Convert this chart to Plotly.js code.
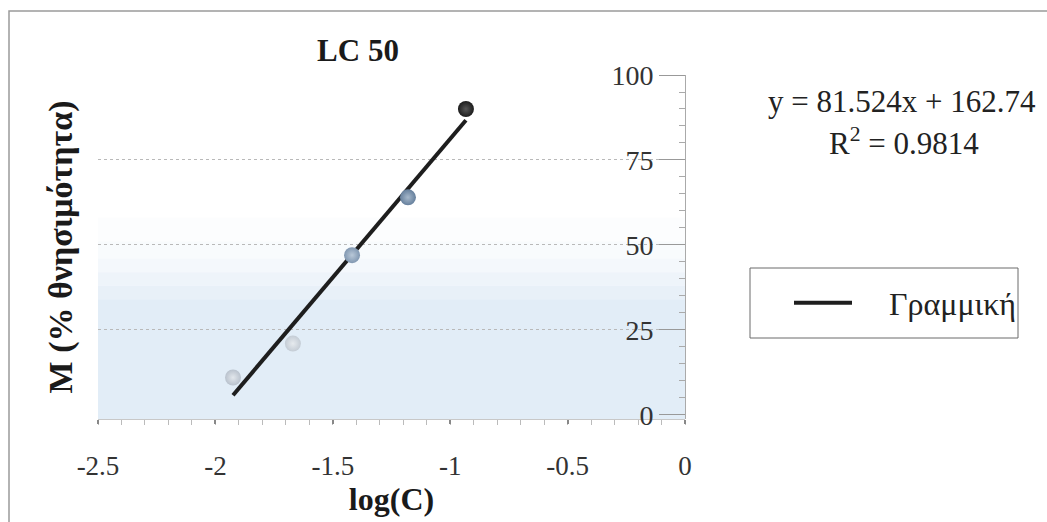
<!DOCTYPE html>
<html>
<head>
<meta charset="utf-8">
<script src="https://cdn.plot.ly/plotly-3.0.1.min.js"></script>
<style>html,body{margin:0;padding:0;background:#fff;}#chart{width:1047px;height:522px;}</style>
</head>
<body>
<div id="chart"></div>
<script>
// ---- data ----
const logC = [-1.925, -1.67, -1.418, -1.18, -0.933];
const mortality = [11, 21, 47, 64, 90];
const slope = 81.524;
const intercept = 162.74;
const rSquared = 0.9814;
const xTickVals = [-2.5, -2, -1.5, -1, -0.5, 0];
const xTickText = ['-2.5', '-2', '-1.5', '-1', '-0.5', '0'];
const yTickVals = [0, 25, 50, 75, 100];
const yTickText = ['0', '25', '50', '75', '100'];
const trendName = 'Γραμμική';
const chartTitle = 'LC 50';
const xTitle = 'log(C)';
const yTitle = 'M (% θνησιμότητα)';

// ---- styles ----
const pointColors = ['#b9c2cd', '#c4ccd5', '#8097b1', '#657f9c', '#1c1c1c'];
const pointHighlights = ['#e2e7ec', '#e6eaee', '#b9c8d8', '#a6b8cb', '#555555'];
const FONT = 'Liberation Serif, Times New Roman, serif';

const trendX = [logC[0], logC[logC.length - 1]];
const trendY = trendX.map(v => slope * v + intercept);

const traces = [
  {
    x: trendX, y: trendY, type: 'scatter', mode: 'lines', name: '\u2002\u2002' + trendName,
    line: {color: '#1e1e1e', width: 4}, showlegend: true, yaxis: 'y'
  },
  {
    x: logC, y: mortality, type: 'scatter', mode: 'markers', name: 'M',
    marker: {size: 16, color: pointColors, line: {width: 0},
             gradient: {type: 'radial', color: pointHighlights}},
    showlegend: false, yaxis: 'y2'
  }
];

// paper-coordinate helpers for decoration (plot area: 98..685 x, 75..419 y)
const L = 98, R = 685, T = 75, B = 419;
const px = v => (v - L) / (R - L);
const py = v => (B - v) / (B - T);

// background band (gradient approximation)
const shapes = [];
const bandSteps = [
  [-1.2, 34, 'rgba(214,229,243,0.7)'],
  [34, 38, 'rgba(216,230,243,0.58)'],
  [38, 42, 'rgba(218,232,244,0.46)'],
  [42, 46, 'rgba(222,234,245,0.34)'],
  [46, 51, 'rgba(226,237,247,0.24)'],
  [51, 58, 'rgba(232,240,248,0.14)']
];
bandSteps.forEach(s => shapes.push({type: 'rect', xref: 'paper', yref: 'y', x0: 0, x1: 1, y0: s[0], y1: s[1],
  fillcolor: s[2], line: {width: 0}, layer: 'below'}));
// outer frame
shapes.push({type: 'rect', xref: 'paper', yref: 'paper', x0: px(9), x1: px(1052), y0: py(527), y1: py(11),
  line: {color: '#9a9a9a', width: 1.5}, fillcolor: 'rgba(0,0,0,0)'});
// legend box
shapes.push({type: 'rect', xref: 'paper', yref: 'paper', x0: px(750), x1: px(1018), y0: py(338), y1: py(268),
  line: {color: '#6a6a6a', width: 1}, fillcolor: 'rgba(0,0,0,0)'});

const layout = {
  width: 1047, height: 522,
  margin: {l: L, r: 1047 - R, t: T, b: 522 - B, pad: 0},
  paper_bgcolor: '#ffffff', plot_bgcolor: '#ffffff',
  font: {family: FONT, color: '#222', size: 28},
  title: {text: '<b>' + chartTitle + '</b>', x: 358 / 1047, xanchor: 'center', xref: 'container',
          y: 1 - 50 / 522, yanchor: 'middle', yref: 'container', font: {size: 31, color: '#1a1a1a', family: FONT}},
  xaxis: {
    range: [-2.5, 0], tickmode: 'array', tickvals: xTickVals, ticktext: xTickText,
    showgrid: false, zeroline: false, showline: true, linecolor: '#c8c8c8', linewidth: 1,
    ticks: 'outside', ticklen: 4, tickwidth: 2, tickcolor: '#888',
    minor: {tickmode: 'linear', tick0: 0, dtick: 0.1, ticks: 'outside', ticklen: 5, tickcolor: '#bbb', tickwidth: 1},
    tickfont: {size: 27, color: '#333'}, ticklabelstandoff: 19, automargin: false,
    title: {text: '<b>' + xTitle + '</b>', font: {size: 32, color: '#1a1a1a'}, standoff: 0}
  },
  yaxis: {
    range: [-1.2, 100], showticklabels: false, ticks: '', showline: false, zeroline: false,
    tickmode: 'array', tickvals: [25, 50, 75, 100],
    showgrid: true, gridcolor: '#b9b9b9', griddash: 'dot', gridwidth: 1, automargin: false,
    title: {text: '<b>' + yTitle + '</b>', font: {size: 34, color: '#1a1a1a'}, standoff: 14}
  },
  yaxis2: {
    matches: 'y', overlaying: 'y', anchor: 'free', position: 1, side: 'left',
    tickmode: 'array', tickvals: yTickVals, ticktext: yTickText,
    showgrid: false, zeroline: false, showline: true, linecolor: '#aaa', linewidth: 1,
    ticks: 'outside', ticklen: 26, tickcolor: '#999', tickwidth: 1,
    minor: {tickmode: 'linear', tick0: 0, dtick: 5, ticks: 'outside', ticklen: 6, tickcolor: '#aaa'},
    tickfont: {size: 28, color: '#333'}, automargin: false
  },
  showlegend: true,
  legend: {x: px(789), y: py(303), xanchor: 'left', yanchor: 'middle', bgcolor: 'rgba(0,0,0,0)',
           borderwidth: 0, font: {size: 32, color: '#222'}, itemwidth: 58},
  annotations: [
    {xref: 'paper', yref: 'paper', x: px(902), y: py(101), xanchor: 'center', yanchor: 'middle', showarrow: false,
     text: 'y = ' + slope + 'x + ' + intercept, font: {size: 31, color: '#222'}},
    {xref: 'paper', yref: 'paper', x: px(904), y: py(141), xanchor: 'center', yanchor: 'middle', showarrow: false,
     text: 'R<sup>2</sup> = ' + rSquared, font: {size: 31, color: '#222'}}
  ],
  shapes: shapes
};

Plotly.newPlot('chart', traces, layout, {staticPlot: true, displayModeBar: false});
</script>
</body>
</html>
